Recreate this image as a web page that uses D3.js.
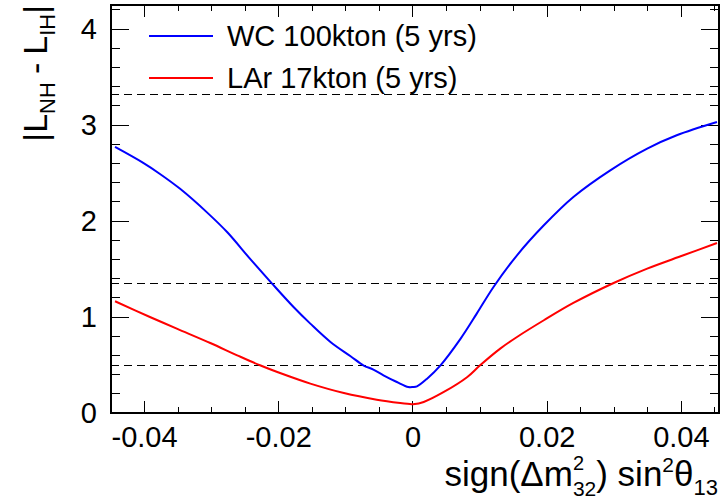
<!DOCTYPE html>
<html>
<head>
<meta charset="utf-8">
<script src="https://cdn.jsdelivr.net/npm/d3@7"></script>
<style>
  html, body { margin: 0; padding: 0; background: #fff; }
  svg { display: block; font-family: "Liberation Sans", Arial, Helvetica, sans-serif; }
</style>
</head>
<body>
<svg id="chart" width="723" height="502"></svg>
<script>
// ---- data ----
const seriesNames = ["WC 100kton (5 yrs)", "LAr 17kton (5 yrs)"];
const seriesColors = ["#0000ff", "#ff0000"];

const wcX = [-0.0444, -0.0402, -0.0377, -0.0347, -0.0305, -0.0277, -0.0243, -0.0210, -0.0178, -0.0153, -0.0123, -0.0093, -0.0074, -0.0059, -0.0044, -0.0024, -0.0007, 0.0000, 0.0006, 0.0021, 0.0041, 0.0071, 0.0095, 0.0120, 0.0155, 0.0195, 0.0239, 0.0294, 0.0349, 0.0393, 0.0453];
const wcY = [2.771, 2.605, 2.490, 2.335, 2.077, 1.885, 1.608, 1.348, 1.104, 0.931, 0.740, 0.591, 0.497, 0.452, 0.393, 0.323, 0.271, 0.271, 0.278, 0.358, 0.497, 0.775, 1.035, 1.313, 1.643, 1.955, 2.250, 2.528, 2.754, 2.893, 3.031];

const larX = [-0.0444, -0.0392, -0.0352, -0.0302, -0.0262, -0.0228, -0.0193, -0.0153, -0.0103, -0.0054, -0.0019, -0.0002, 0.0000, 0.0016, 0.0046, 0.0081, 0.0100, 0.0130, 0.0155, 0.0195, 0.0239, 0.0299, 0.0349, 0.0403, 0.0453];
const larY = [1.164, 1.000, 0.879, 0.729, 0.601, 0.497, 0.403, 0.306, 0.208, 0.139, 0.104, 0.091, 0.091, 0.115, 0.219, 0.375, 0.497, 0.671, 0.792, 0.966, 1.146, 1.354, 1.504, 1.643, 1.771];

const refLevels = [0.5, 1.35, 3.32];

const xMajorTicks = [-0.04, -0.02, 0, 0.02, 0.04];
const xTickLabels = ["-0.04", "-0.02", "0", "0.02", "0.04"];
const xMinorTicks = [-0.045, -0.035, -0.03, -0.025, -0.015, -0.01, -0.005, 0.005, 0.01, 0.015, 0.025, 0.03, 0.035, 0.045];
const yMajorTicks = [0, 1, 2, 3, 4];
const yTickLabels = ["0", "1", "2", "3", "4"];
const yMinorTicks = [0.2, 0.4, 0.6, 0.8, 1.2, 1.4, 1.6, 1.8, 2.2, 2.4, 2.6, 2.8, 3.2, 3.4, 3.6, 3.8, 4.2];

// ---- layout ----
const L = 111, R = 719, T = 5, B = 413;
const svg = d3.select("#chart");
const x = d3.scaleLinear().domain([-0.045, 0.0456]).range([L, R]);
const y = d3.scaleLinear().domain([0, 4.25]).range([B, T]);

// ticks (inside, on all four sides)
const tk = svg.append("g").attr("stroke", "#000").attr("stroke-width", 1).attr("shape-rendering", "crispEdges");
xMajorTicks.forEach(v => {
  tk.append("line").attr("x1", x(v)).attr("x2", x(v)).attr("y1", B).attr("y2", B - 12);
  tk.append("line").attr("x1", x(v)).attr("x2", x(v)).attr("y1", T).attr("y2", T + 12);
});
xMinorTicks.forEach(v => {
  tk.append("line").attr("x1", x(v)).attr("x2", x(v)).attr("y1", B).attr("y2", B - 6);
  tk.append("line").attr("x1", x(v)).attr("x2", x(v)).attr("y1", T).attr("y2", T + 6);
});
yMajorTicks.forEach(v => {
  tk.append("line").attr("y1", y(v)).attr("y2", y(v)).attr("x1", L).attr("x2", L + 18);
  tk.append("line").attr("y1", y(v)).attr("y2", y(v)).attr("x1", R).attr("x2", R - 18);
});
yMinorTicks.forEach(v => {
  tk.append("line").attr("y1", y(v)).attr("y2", y(v)).attr("x1", L).attr("x2", L + 9);
  tk.append("line").attr("y1", y(v)).attr("y2", y(v)).attr("x1", R).attr("x2", R - 9);
});

// dashed reference lines
svg.append("g").selectAll("line").data(refLevels).join("line")
  .attr("x1", L).attr("x2", R)
  .attr("y1", d => y(d)).attr("y2", d => y(d))
  .attr("stroke", "#000").attr("stroke-width", 1)
  .attr("stroke-dasharray", "8,5")
  .attr("shape-rendering", "crispEdges");

// curves
const line = d3.line().x(d => x(d[0])).y(d => y(d[1])).curve(d3.curveCatmullRom.alpha(0.5));
const series = [d3.zip(wcX, wcY), d3.zip(larX, larY)];
series.forEach((s, i) => {
  svg.append("path").datum(s).attr("d", line)
    .attr("fill", "none").attr("stroke", seriesColors[i]).attr("stroke-width", 2);
});

// frame
svg.append("rect").attr("x", L).attr("y", T).attr("width", R - L).attr("height", B - T)
  .attr("fill", "none").attr("stroke", "#000").attr("stroke-width", 2);

// tick labels
svg.append("g").selectAll("text").data(xMajorTicks).join("text")
  .attr("x", d => x(d)).attr("y", 447)
  .attr("text-anchor", "middle").attr("font-size", 29)
  .text((d, i) => xTickLabels[i]);
svg.append("g").selectAll("text").data(yMajorTicks).join("text")
  .attr("x", 97).attr("y", d => y(d) + 10)
  .attr("text-anchor", "end").attr("font-size", 29)
  .text((d, i) => yTickLabels[i]);

// legend
const leg = svg.append("g");
[36, 78].forEach((ly, i) => {
  leg.append("line").attr("x1", 149).attr("x2", 213).attr("y1", ly).attr("y2", ly)
    .attr("stroke", seriesColors[i]).attr("stroke-width", 2);
  leg.append("text").attr("x", 227).attr("y", ly + 10).attr("font-size", 29).text(seriesNames[i]);
});

// titles built from pieces
function buildTitle(g, pieces) {
  let cx = 0, stackStart = 0;
  pieces.forEach(p => {
    const t = g.append("text").attr("font-size", p.size).attr("y", p.dy || 0).text(p.t);
    const px = p.stack ? stackStart : cx;
    t.attr("x", px + (p.gap || 0));
    const w = t.node().getComputedTextLength() + (p.gap || 0);
    if (!p.stack) stackStart = cx;
    cx = Math.max(cx, px + w);
  });
  return cx;
}
const xt = svg.append("g");
const xtw = buildTitle(xt, [
  {t: "sign(Δm", size: 35},
  {t: "2", size: 20, dy: -16},
  {t: "32", size: 21, dy: 10, stack: true},
  {t: ") sin", size: 35},
  {t: "2", size: 21, dy: -14},
  {t: "θ", size: 35},
  {t: "13", size: 22, dy: 9}
]);
xt.attr("transform", `translate(${718 - xtw},486)`);

// y-axis title
const yt = svg.append("g");
const ytw = buildTitle(yt, [
  {t: "|L", size: 34},
  {t: "NH", size: 22, dy: 8},
  {t: "-", size: 34, gap: 8},
  {t: "L", size: 34, gap: 8},
  {t: "IH", size: 22, dy: 8},
  {t: "|", size: 34}
]);
yt.attr("transform", `translate(47,${5 + ytw}) rotate(-90)`);
</script>
</body>
</html>
